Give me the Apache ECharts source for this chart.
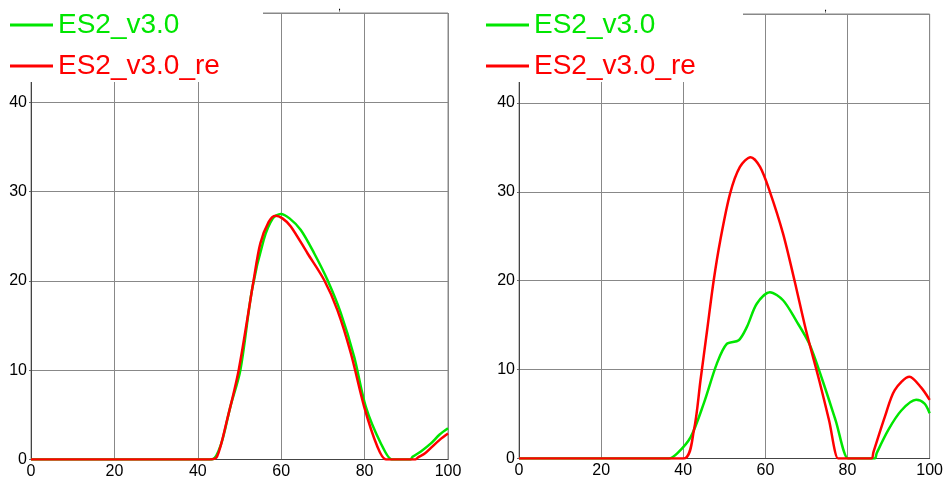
<!DOCTYPE html>
<html>
<head>
<meta charset="utf-8">
<script src="https://cdn.jsdelivr.net/npm/echarts@6/dist/echarts.min.js"></script>
<style>
  html, body { margin: 0; padding: 0; background: #fff; }
  #chart { width: 946px; height: 480px; }
</style>
</head>
<body>
<div id="chart"></div>
<script>
// Series names
const seriesNames = ['ES2_v3.0', 'ES2_v3.0_re'];
const seriesColors = ['#00e600', '#ff0000'];

// Left panel: ES2_v3.0
const leftBaseX = [0, 20, 40, 43.4, 45.5, 47.8, 50.2, 53.0, 55.8, 58.0, 59.9, 62.0, 64.7, 67.9, 71.1, 74.3, 77.5, 80.3, 83.9, 86.5, 87.0, 91.0, 91.5, 93.5, 95.9, 98.0, 100];
const leftBaseY = [0, 0, 0, 0, 1.6, 5.9, 10.0, 19.0, 24.6, 27.0, 27.5, 27.0, 25.7, 23.1, 20.1, 16.4, 11.5, 5.9, 1.8, 0, 0, 0, 0.3, 0.9, 1.8, 2.8, 3.5];

// Left panel: ES2_v3.0_re
const leftReX = [0, 20, 40, 42.8, 44.6, 47.0, 49.8, 53.4, 55.0, 57.0, 58.6, 60.3, 62.3, 66.3, 70.3, 73.5, 76.7, 79.9, 83.1, 85.1, 85.6, 92.2, 92.7, 94.5, 95.9, 98.0, 100];
const leftReY = [0, 0, 0, 0, 0.3, 4.4, 10.0, 20.1, 24.2, 26.6, 27.3, 27.0, 26.1, 23.1, 20.1, 16.7, 11.9, 5.9, 1.4, 0, 0, 0, 0.2, 0.7, 1.3, 2.2, 2.9];

// Right panel: ES2_v3.0
const rightBaseX = [0, 20, 36.5, 38.6, 41.8, 45.0, 48.2, 50.6, 53.5, 55.5, 57.9, 61.1, 64.3, 67.5, 70.7, 73.9, 77.1, 80.1, 80.6, 86.6, 87.1, 89.9, 93.1, 96.7, 98.7, 100];
const rightBaseY = [0, 0, 0, 0.6, 2.4, 6.2, 10.7, 12.9, 13.3, 14.8, 17.4, 18.7, 17.8, 15.5, 12.9, 8.8, 4.3, 0, 0, 0, 0.6, 3.2, 5.4, 6.6, 6.2, 5.1];

// Right panel: ES2_v3.0_re
const rightReX = [0, 20, 40.1, 42.6, 44.2, 45.8, 47.4, 49.0, 51.4, 53.8, 56.4, 58.7, 61.1, 64.3, 67.1, 69.9, 73.1, 75.5, 77.7, 78.2, 85.8, 86.3, 89.1, 91.5, 95.1, 97.9, 100];
const rightReY = [0, 0, 0, 3.2, 8.8, 14.4, 20.0, 24.5, 29.8, 32.8, 33.9, 32.8, 30.0, 25.3, 20.0, 14.4, 8.8, 4.3, 0, 0, 0, 0.7, 4.7, 7.7, 9.2, 8.0, 6.6];

// Axis settings
const xTicks = { min: 0, max: 100, interval: 20 };
const yTicks = { min: 0, max: 50, interval: 10 };

const zip = (xs, ys) => xs.map((x, i) => [x, ys[i]]);

const chart = echarts.init(document.getElementById('chart'), null, { renderer: 'canvas' });

const grids = [
  { left: 31, top: 13, width: 417, height: 446.5 },
  { left: 519, top: 14, width: 416.5, height: 444.5 }
];

function xAxisFor(gi) {
  return {
    type: 'value', gridIndex: gi, min: xTicks.min, max: xTicks.max, interval: xTicks.interval,
    axisLine: { show: true, onZero: false, lineStyle: { color: '#444', width: 1 } },
    axisTick: { show: false },
    splitLine: { show: true, lineStyle: { color: '#888', width: 1 } },
    axisLabel: { color: '#000', fontSize: 16, fontFamily: 'Liberation Sans', margin: 4, showMaxLabel: true, showMinLabel: true }
  };
}
function yAxisFor(gi) {
  return {
    type: 'value', gridIndex: gi, min: yTicks.min, max: yTicks.max, interval: yTicks.interval,
    axisLine: { show: true, lineStyle: { color: '#444', width: 1 } },
    axisTick: { show: true, length: 2, lineStyle: { color: '#666' } },
    splitLine: { show: true, lineStyle: { color: '#888', width: 1 } },
    axisLabel: { color: '#000', fontSize: 16, fontFamily: 'Liberation Sans', margin: 4 }
  };
}

function lineSeries(name, color, gi, data) {
  return {
    type: 'line', name, xAxisIndex: gi, yAxisIndex: gi, data,
    showSymbol: false, symbol: 'none', smooth: 0.3,
    lineStyle: { color, width: 2.5 }, itemStyle: { color },
    clip: true, z: 2
  };
}

function legendAt(left) {
  return {
    orient: 'vertical', left, top: 0,
    padding: [11, 10, 0, 10],
    itemWidth: 43, itemHeight: 3, itemGap: 13, icon: 'rect',
    selectedMode: false,
    textStyle: { fontSize: 28, lineHeight: 28, fontFamily: 'Liberation Sans', padding: [0, 0, 0, 0] },
    data: seriesNames.map((n, i) => ({ name: n, textStyle: { color: seriesColors[i] } })),
    z: 5
  };
}

chart.setOption({
  animation: false,
  backgroundColor: '#fff',
  grid: grids.map(g => Object.assign({ show: true, borderColor: '#888', borderWidth: 1, backgroundColor: 'transparent' }, g)),
  xAxis: [xAxisFor(0), xAxisFor(1)],
  yAxis: [yAxisFor(0), yAxisFor(1)],
  legend: [legendAt(0), legendAt(476)],
  series: [
    lineSeries(seriesNames[0], seriesColors[0], 0, zip(leftBaseX, leftBaseY)),
    lineSeries(seriesNames[1], seriesColors[1], 0, zip(leftReX, leftReY)),
    lineSeries(seriesNames[0], seriesColors[0], 1, zip(rightBaseX, rightBaseY)),
    lineSeries(seriesNames[1], seriesColors[1], 1, zip(rightReX, rightReY))
  ],
  graphic: [
    { type: 'rect', left: 0, top: 0, z: 4, shape: { width: 263, height: 82 }, style: { fill: '#fff' } },
    { type: 'rect', left: 476, top: 0, z: 4, shape: { width: 267, height: 82 }, style: { fill: '#fff' } },
    { type: 'text', left: 338, top: 1, z: 4, style: { text: ',', fontSize: 11, fill: '#000', fontFamily: 'Liberation Sans' } },
    { type: 'text', left: 824, top: 2, z: 4, style: { text: ',', fontSize: 11, fill: '#000', fontFamily: 'Liberation Sans' } }
  ]
});
</script>
</body>
</html>
